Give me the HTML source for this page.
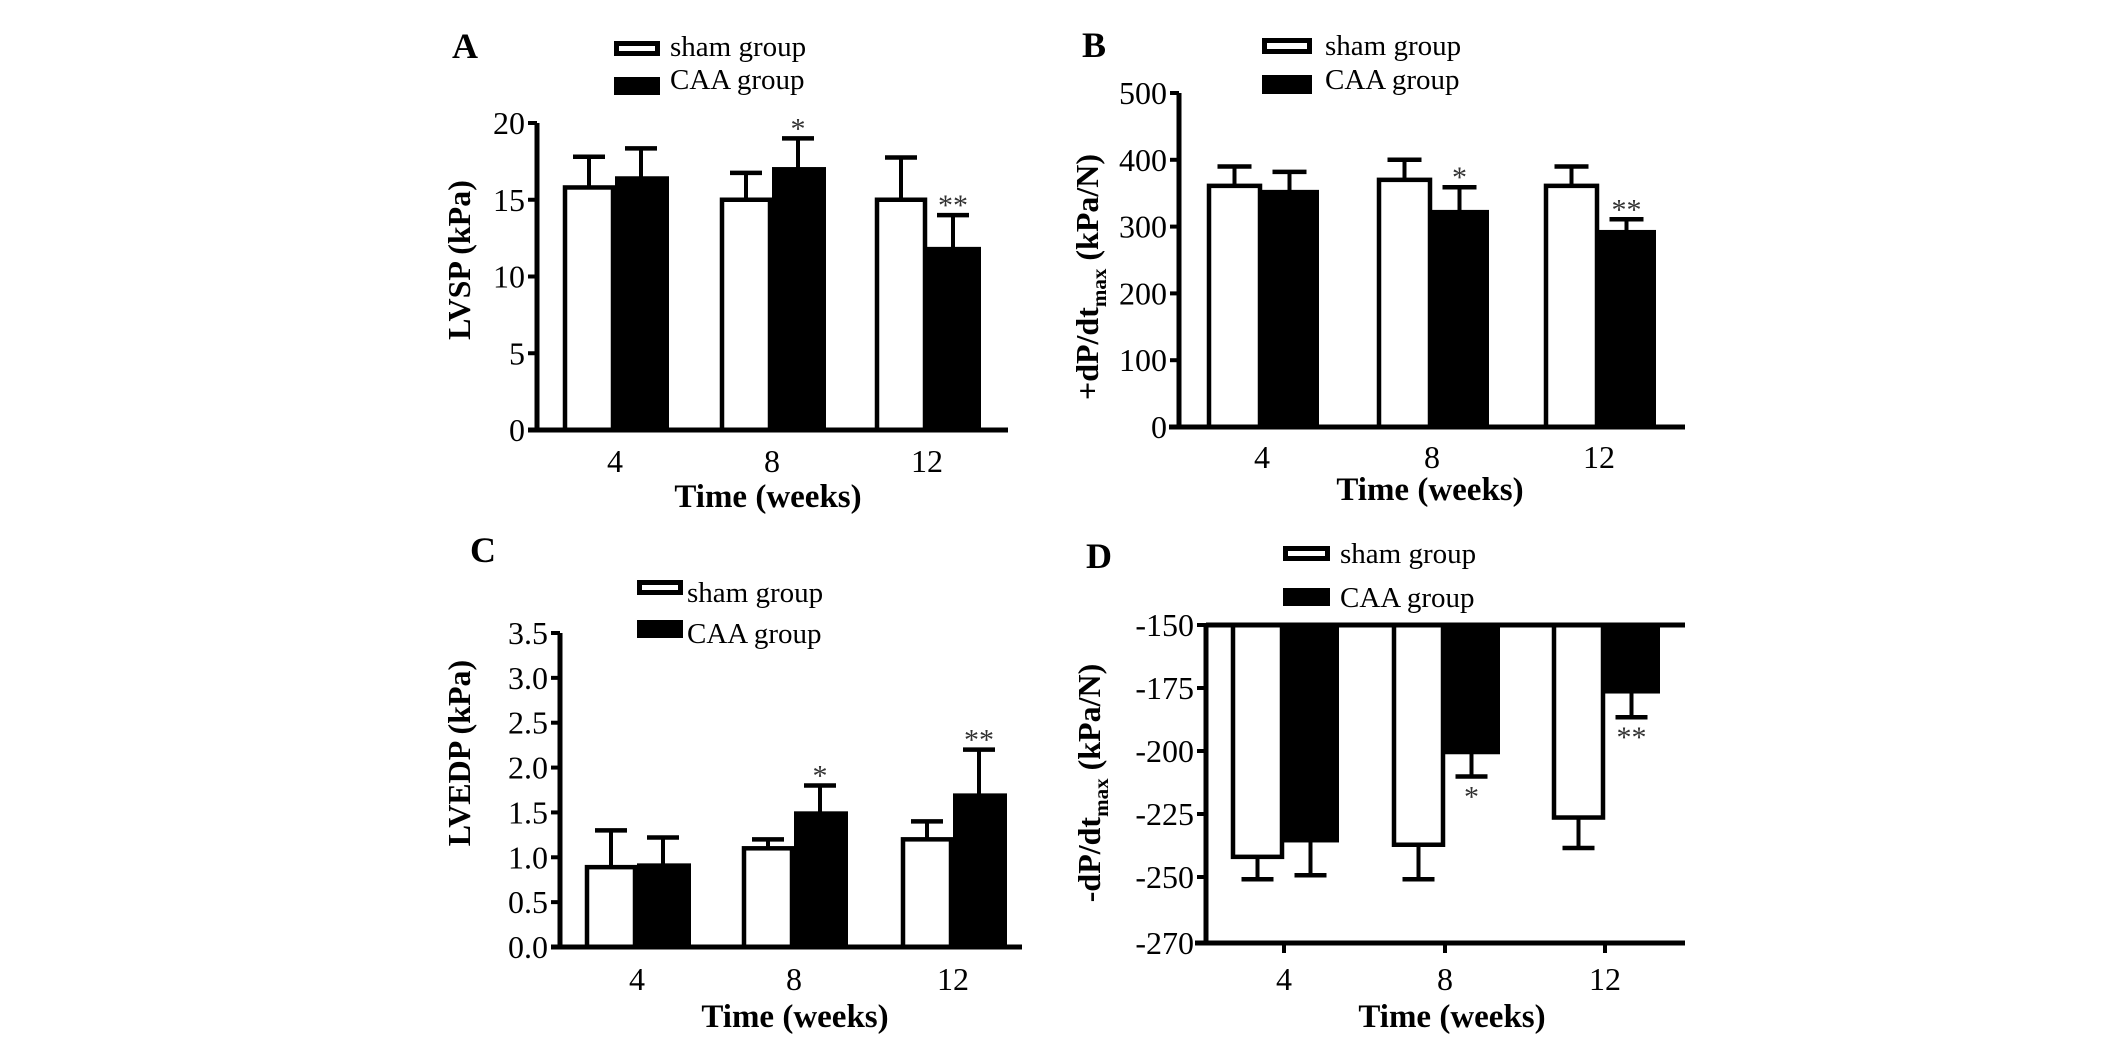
<!DOCTYPE html>
<html><head><meta charset="utf-8"><style>
html,body{margin:0;padding:0;background:#fff;}
svg{display:block;font-family:"Liberation Serif",serif;}
</style></head><body>
<svg id="fig" width="2126" height="1042" viewBox="0 0 2126 1042" xmlns="http://www.w3.org/2000/svg"></svg>
<script>
const categories=["4","8","12"];
const shamA=[15.8,15.0,15.0], shamErrA=[2.0,1.75,2.75];
const caaA=[16.4,17.0,11.8], caaErrA=[1.95,2.0,2.2];
const ticksA=[0,5,10,15,20], tickLabelsA=["0","5","10","15","20"];
const shamB=[361,370,361], shamErrB=[29,30,29];
const caaB=[352,322,292], caaErrB=[30,37,19];
const ticksB=[0,100,200,300,400,500], tickLabelsB=["0","100","200","300","400","500"];
const shamC=[0.89,1.10,1.20], shamErrC=[0.41,0.10,0.20];
const caaC=[0.91,1.49,1.69], caaErrC=[0.31,0.31,0.51];
const ticksC=[0,0.5,1,1.5,2,2.5,3,3.5], tickLabelsC=["0.0","0.5","1.0","1.5","2.0","2.5","3.0","3.5"];
const shamD=[-242,-237.2,-226.4], shamErrD=[8.7,13.5,12.1];
const caaD=[-235.5,-200.5,-176.4], caaErrD=[13.8,9.6,10.2];
const ticksD=[-150,-175,-200,-225,-250,-270], tickLabelsD=["-150","-175","-200","-225","-250","-270"];
const sigA=["","*","**"], sigB=["","*","**"], sigC=["","*","**"], sigD=["","*","**"];

const NS="http://www.w3.org/2000/svg";
const svg=document.getElementById('fig');
function mk(tag,attrs,parent,txt){const e=document.createElementNS(NS,tag);for(const k in attrs)e.setAttribute(k,attrs[k]);if(txt!==undefined)e.textContent=txt;(parent||svg).appendChild(e);return e;}

function panel(p){
  const g=mk('g',{});
  
  
  const y=p.y;
  const L=mk('text',{x:p.letterX,y:p.letterY,'font-size':36,'font-weight':'bold'},g,p.letter);
  
  
  const lg=mk('g',{},g);
  
  
  const e1=mk('g',{},lg);
  
  
  mk('rect',{x:p.lx+2.5,y:p.ly1+2.5,width:p.lw-5,height:p.lh-5,fill:'#fff',stroke:'#000','stroke-width':5},e1);
  mk('text',{x:p.ltx,y:p.lb1,'font-size':29},e1,'sham group');
  const e2=mk('g',{},lg);
  
  
  mk('rect',{x:p.lx,y:p.ly2,width:p.lw,height:p.lh+3,fill:'#000'},e2);
  mk('text',{x:p.ltx,y:p.lb2,'font-size':29},e2,'CAA group');
  for(let i=0;i<categories.length;i++){
    const c=p.centers[i];
    const base=p.base;
    const ys=y(p.sham[i]), yc=y(p.caa[i]);
    const eb1=mk('g',{},g);
    
    
    const sTip=y(p.down? p.sham[i]-p.shamErr[i] : p.sham[i]+p.shamErr[i]);
    const cTip=y(p.down? p.caa[i]-p.caaErr[i] : p.caa[i]+p.caaErr[i]);
    const sx=c-p.bw/2, cx=c+p.bw/2;
    mk('line',{x1:sx,x2:sx,y1:ys,y2:sTip,stroke:'#000','stroke-width':4},eb1);
    mk('line',{x1:sx-p.cap,x2:sx+p.cap,y1:sTip,y2:sTip,stroke:'#000','stroke-width':4.5},eb1);
    const eb2=mk('g',{},g);
    
    
    mk('line',{x1:cx,x2:cx,y1:yc,y2:cTip,stroke:'#000','stroke-width':4},eb2);
    mk('line',{x1:cx-p.cap,x2:cx+p.cap,y1:cTip,y2:cTip,stroke:'#000','stroke-width':4.5},eb2);
    const top1=Math.min(ys,base), h1=Math.abs(ys-base);
    const r1=mk('rect',{x:c-p.bw+2,y:top1,width:p.bw-4,height:h1,fill:'#fff',stroke:'#000','stroke-width':4.5},g);
    
    
    const top2=Math.min(yc,base), h2=Math.abs(yc-base);
    const r2=mk('rect',{x:c,y:top2-2,width:p.bw+2,height:h2+4,fill:'#000'},g);
    
    
    const t=mk('text',{x:c,y:p.catY,'font-size':32,'text-anchor':'middle'},g,categories[i]);
    
    
    if(p.sig[i]){
      const tipY=p.down?cTip+30:cTip;
      const s=mk('text',{x:cx,y:tipY,'font-size':30,'text-anchor':'middle',fill:'#333'},g,p.sig[i]);
      
      
    }
  }
  const ya=mk('line',{x1:p.ax,x2:p.ax,y1:p.yAxTop,y2:p.yAxBot,stroke:'#000','stroke-width':5},g);
  
  
  const xa=mk('line',{x1:p.xa0,x2:p.xa1,y1:p.xAxY,y2:p.xAxY,stroke:'#000','stroke-width':5},g);
  
  
  if(p.topLine){
    const tl=mk('line',{x1:p.ax,x2:p.xa1,y1:p.base,y2:p.base,stroke:'#000','stroke-width':5},g);
    
    
    for(let i=0;i<categories.length;i++) mk('line',{x1:p.centers[i],x2:p.centers[i],y1:p.xAxY,y2:p.xAxY+10,stroke:'#000','stroke-width':4},g);
  }
  for(let i=0;i<p.ticks.length;i++){
    const ty=y(p.ticks[i]);
    mk('line',{x1:p.ax-9,x2:p.ax,y1:ty,y2:ty,stroke:'#000','stroke-width':4},g);
    const tt=mk('text',{x:p.ax-12,y:ty+11,'font-size':32,'text-anchor':'end'},g,p.tickLabels[i]);
    
    
  }
  const xt=mk('text',{x:p.xtX,y:p.xtY,'font-size':33,'font-weight':'bold','text-anchor':'middle'},g,'Time (weeks)');
  
  
  const yt=mk('text',{x:0,y:0,'font-size':32,'font-weight':'bold','text-anchor':'middle',transform:`translate(${p.ytX},${p.ytY}) rotate(-90)`},g);
  
  
  if(p.sub){
    mk('tspan',{},yt,p.yt1);
    mk('tspan',{'font-size':21,dy:8},yt,'max');
    mk('tspan',{dy:-8},yt,' (kPa/N)');
  } else yt.textContent=p.yt1;
}

function lin(v0,p0,v1,p1){return v=>p0+(v-v0)*(p1-p0)/(v1-v0);}

panel({id:'a',letter:'A',letterX:452,letterY:58,lx:614,ly1:41,ly2:77,lw:46,lh:15,ltx:670,lb1:56,lb2:89,
  y:lin(0,430,20,123),base:430,centers:[615,772,927],bw:52,cap:16,sham:shamA,shamErr:shamErrA,caa:caaA,caaErr:caaErrA,
  ticks:ticksA,tickLabels:tickLabelsA,sig:sigA,catY:472,ax:537,yAxTop:123,yAxBot:432,xa0:528,xa1:1008,xAxY:430,
  xtX:768,xtY:507,ytX:470,ytY:260,yt1:'LVSP (kPa)'});
panel({id:'b',letter:'B',letterX:1082,letterY:57,lx:1262,ly1:38,ly2:75,lw:50,lh:16,ltx:1325,lb1:55,lb2:89,
  y:lin(0,427,500,93),base:427,centers:[1262,1432,1599],bw:55,cap:17,sham:shamB,shamErr:shamErrB,caa:caaB,caaErr:caaErrB,
  ticks:ticksB,tickLabels:tickLabelsB,sig:sigB,catY:468,ax:1179,yAxTop:93,yAxBot:429,xa0:1169,xa1:1685,xAxY:427,
  xtX:1430,xtY:500,ytX:1098,ytY:277,yt1:'+dP/dt',sub:true});
panel({id:'c',letter:'C',letterX:470,letterY:562,lx:637,ly1:580,ly2:620,lw:46,lh:15,ltx:687,lb1:602,lb2:643,
  y:lin(0,947,3.5,633),base:947,centers:[637,794,953],bw:52,cap:16,sham:shamC,shamErr:shamErrC,caa:caaC,caaErr:caaErrC,
  ticks:ticksC,tickLabels:tickLabelsC,sig:sigC,catY:990,ax:560,yAxTop:633,yAxBot:949,xa0:551,xa1:1022,xAxY:947,
  xtX:795,xtY:1027,ytX:470,ytY:753,yt1:'LVEDP (kPa)'});
const yD=v=> v>=-250 ? lin(-150,625,-250,877)(v) : lin(-250,877,-270,943)(v);
panel({id:'d',letter:'D',letterX:1086,letterY:568,lx:1283,ly1:546,ly2:588,lw:47,lh:15,ltx:1340,lb1:563,lb2:607,
  y:yD,base:625,down:true,topLine:true,centers:[1284,1445,1605],bw:53,cap:16,sham:shamD,shamErr:shamErrD,caa:caaD,caaErr:caaErrD,
  ticks:ticksD,tickLabels:tickLabelsD,sig:sigD,catY:990,ax:1206,yAxTop:625,yAxBot:945,xa0:1195,xa1:1685,xAxY:943,
  xtX:1452,xtY:1027,ytX:1100,ytY:783,yt1:'-dP/dt',sub:true});
</script>
</body></html>
